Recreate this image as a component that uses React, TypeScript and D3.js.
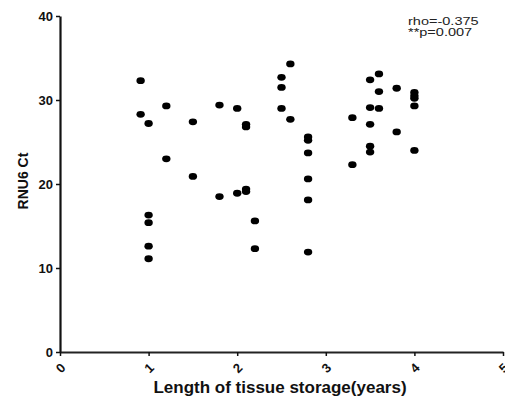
import React, { useEffect, useRef } from 'react'
import * as d3 from 'd3'

// storage length (years) and RNU6 Ct
const years = [
  0.91, 0.91, 1.0, 1.0, 1.0, 1.0, 1.0,
  1.2, 1.2,
  1.5, 1.5,
  1.8, 1.8,
  2.0, 2.0,
  2.1, 2.1, 2.1, 2.1,
  2.2, 2.2,
  2.5, 2.5, 2.5, 2.6, 2.6,
  2.8, 2.8, 2.8, 2.8, 2.8, 2.8,
  3.3, 3.3,
  3.5, 3.5, 3.5, 3.5, 3.5,
  3.6, 3.6, 3.6,
  3.8, 3.8,
  4.0, 4.0, 4.0, 4.0, 4.0,
]
const ct = [
  32.3, 28.3, 27.2, 16.3, 15.4, 12.6, 11.1,
  29.3, 23.0,
  27.4, 20.9,
  29.4, 18.5,
  29.0, 18.9,
  27.1, 26.8, 19.4, 19.1,
  15.6, 12.3,
  32.7, 31.5, 29.0, 34.3, 27.7,
  25.6, 25.2, 23.7, 20.6, 18.1, 11.9,
  27.9, 22.3,
  32.4, 29.1, 27.1, 24.5, 23.8,
  33.1, 31.0, 29.0,
  31.4, 26.2,
  30.9, 30.5, 30.2, 29.3, 24.0,
]
const xTicks = [0, 1, 2, 3, 4, 5]
const yTicks = [0, 10, 20, 30, 40]
const statLines = ['rho=-0.375', '**p=0.007']

export default function App() {
  const svgRef = useRef<SVGSVGElement>(null)
  const width = 505
  const height = 398

  useEffect(() => {
    const svg = d3.select(svgRef.current)
    svg.selectAll('*').remove()

    const font = 'Liberation Sans, Arial, sans-serif'
    const x = d3.scaleLinear().domain([0, 5]).range([60, 503])
    const y = d3.scaleLinear().domain([0, 40]).range([352, 16])

    // y axis
    const yAxis = svg.append('g')
      .attr('transform', `translate(${x(0)},0)`)
      .call(d3.axisLeft(y).tickValues(yTicks).tickSize(4).tickPadding(3).tickSizeOuter(0))
    yAxis.select('.domain').attr('stroke', '#111').attr('stroke-width', 2.2)
    yAxis.selectAll('.tick line').attr('stroke', '#111').attr('stroke-width', 1.5)
    yAxis.selectAll('.tick text')
      .attr('fill', '#111')
      .style('font-family', font)
      .style('font-size', '13px')
      .style('font-weight', 'bold')

    // x axis
    const xAxis = svg.append('g')
      .attr('transform', `translate(0,${y(0)})`)
      .call(d3.axisBottom(x).tickValues(xTicks).tickFormat(d3.format('d')).tickSize(4).tickSizeOuter(0))
    xAxis.select('.domain').attr('stroke', '#222').attr('stroke-width', 2.2)
    xAxis.selectAll('.tick line').attr('stroke', '#111').attr('stroke-width', 1.5)
    xAxis.selectAll('.tick text')
      .attr('fill', '#111')
      .attr('y', 0)
      .attr('dy', '0.35em')
      .attr('text-anchor', 'middle')
      .attr('transform', 'translate(0,16) rotate(-45)')
      .style('font-family', font)
      .style('font-size', '13px')
      .style('font-weight', 'bold')

    // points
    svg.append('g')
      .selectAll('ellipse')
      .data(years.map((v, i) => [v, ct[i]]))
      .enter().append('ellipse')
      .attr('cx', d => x(d[0]))
      .attr('cy', d => y(d[1]))
      .attr('rx', 4.2)
      .attr('ry', 3.4)
      .attr('fill', '#000')

    // axis titles
    svg.append('text')
      .attr('transform', `translate(28,181) rotate(-90)`)
      .attr('text-anchor', 'middle')
      .style('font-family', font)
      .style('font-size', '14px')
      .style('font-weight', 'bold')
      .attr('fill', '#111')
      .text('RNU6 Ct')

    svg.append('text')
      .attr('x', 280)
      .attr('y', 393)
      .attr('text-anchor', 'middle')
      .style('font-family', font)
      .style('font-size', '17px')
      .style('font-weight', 'bold')
      .attr('fill', '#111')
      .text('Length of tissue storage(years)')

    // stats annotation (text in the original is a bit stretched sideways)
    svg.append('g')
      .attr('transform', 'translate(408,0) scale(1.32,1)')
      .selectAll('text')
      .data(statLines)
      .enter().append('text')
      .attr('x', 0)
      .attr('y', (d, i) => 25 + i * 11.5)
      .style('font-family', font)
      .style('font-size', '11px')
      .attr('fill', '#222')
      .text(d => d)
  }, [])

  return (
    <div style={{ position: 'fixed', left: 0, top: 0 }}>
      <svg ref={svgRef} width={width} height={height} style={{ display: 'block', background: '#fff' }} />
    </div>
  )
}
